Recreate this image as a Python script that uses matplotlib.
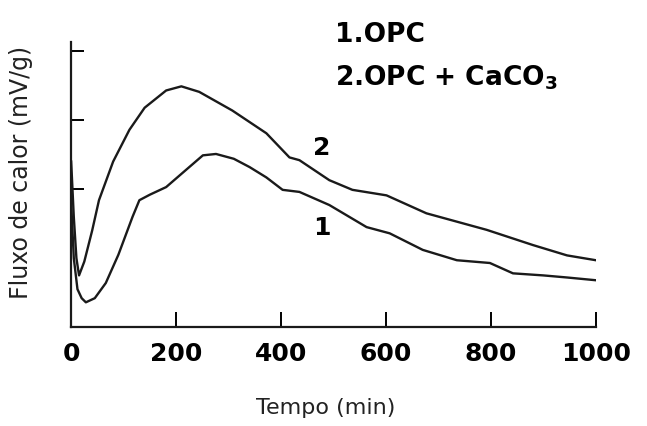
import matplotlib.pyplot as plt

# Curve 1: OPC
t1 = [0, 5, 12, 20, 28, 45, 66, 90, 117, 130, 150, 181, 219, 251, 276, 310, 340, 372,
      403, 435, 492, 563, 607, 670, 735, 798, 842, 900, 945, 1000]
q1 = [1.8, 1.0, 0.55, 0.42, 0.36, 0.42, 0.64, 1.05, 1.6, 1.84, 1.92, 2.03, 2.28, 2.49,
      2.51, 2.44, 2.32, 2.17, 1.99, 1.96, 1.77, 1.45, 1.36, 1.12, 0.97, 0.93, 0.78, 0.75,
      0.72, 0.68]

# Curve 2: OPC + CaCO3
t2 = [0, 5, 10, 15, 25, 40, 53, 80, 111, 140, 181, 210, 244, 307, 372, 416, 435, 492,
      536, 601, 677, 792, 880, 945, 1000]
q2 = [2.4, 1.6, 1.0, 0.75, 0.95, 1.4, 1.84, 2.4, 2.86, 3.18, 3.43, 3.49, 3.41, 3.14,
      2.81, 2.46, 2.42, 2.13, 1.99, 1.91, 1.65, 1.41, 1.19, 1.04, 0.97]

x_ticks = [0, 200, 400, 600, 800, 1000]
y_ticks = [2, 3, 4]

fig = plt.figure(figsize=(6.47, 4.26), dpi=100)
ax = fig.add_axes([0.110, 0.232, 0.811, 0.669])

ax.plot(t1, q1, color="#1a1a1a", lw=1.7)
ax.plot(t2, q2, color="#1a1a1a", lw=1.7)

ax.set_xlim(0, 1000)
ax.set_ylim(0, 4.13)
ax.spines["top"].set_visible(False)
ax.spines["right"].set_visible(False)
for s in ["left", "bottom"]:
    ax.spines[s].set_linewidth(1.6)
    ax.spines[s].set_color("#1a1a1a")

ax.set_xticks(x_ticks)
ax.set_xticklabels([str(v) for v in x_ticks], fontsize=18, fontweight="bold")
ax.set_yticks(y_ticks)
ax.set_yticklabels([])
ax.tick_params(axis="x", direction="in", length=11, width=1.4, pad=11)
ax.tick_params(axis="y", direction="in", length=9, width=1.4)

ax.set_xlabel("Tempo (min)", fontsize=16, color="#222222")
ax.set_ylabel("Fluxo de calor (mV/g)", fontsize=17, color="#222222")
ax.xaxis.set_label_coords(0.486, -0.25)
ax.yaxis.set_label_coords(-0.072, 0.544)

ax.text(477, 2.59, "2", fontsize=18, fontweight="bold", ha="center", va="center")
ax.text(477, 1.43, "1", fontsize=18, fontweight="bold", ha="center", va="center")

fig.text(0.518, 0.918, "1.OPC", fontsize=19, fontweight="bold", ha="left", va="center")
fig.text(0.518, 0.817, "2.OPC + CaCO$_\\mathbf{3}$", fontsize=19, fontweight="bold",
         ha="left", va="center")

fig.savefig("out.png", dpi=100)
